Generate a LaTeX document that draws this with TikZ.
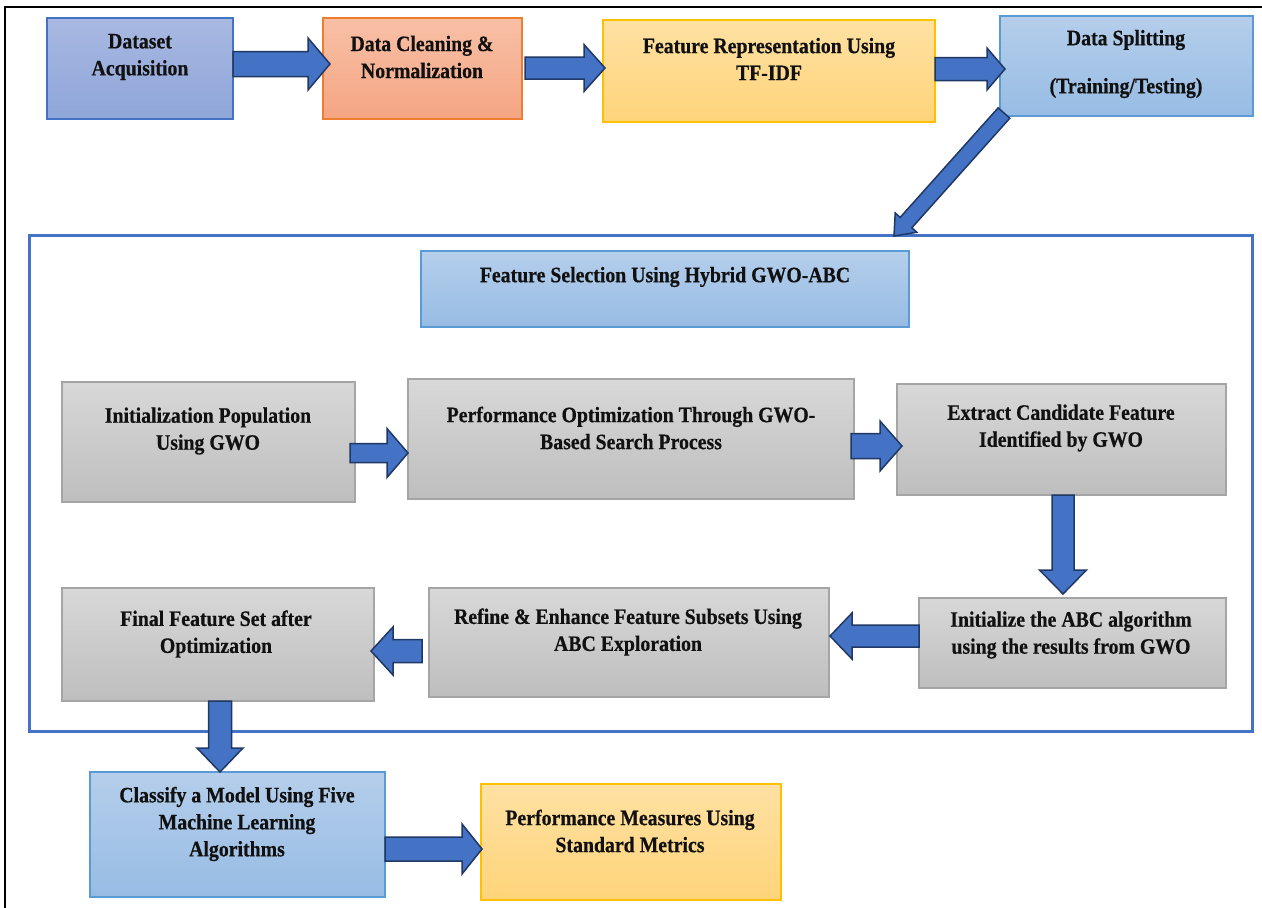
\documentclass[tikz,border=0pt]{standalone}
\usepackage{fontspec}
\setmainfont{Liberation Serif}[FakeStretch=0.9, BoldFeatures={FakeBold=0.5}]
\usetikzlibrary{calc}
\definecolor{bluetop}{HTML}{A8B8E1}
\definecolor{bluebot}{HTML}{8FA6DA}
\definecolor{blueline}{HTML}{4472C4}
\definecolor{orangetop}{HTML}{F8C0A6}
\definecolor{orangebot}{HTML}{F4A583}
\definecolor{orangeline}{HTML}{ED7D31}
\definecolor{yellowtop}{HTML}{FFE1A3}
\definecolor{yellowbot}{HTML}{FFD47A}
\definecolor{yellowline}{HTML}{FFC000}
\definecolor{ltbluetop}{HTML}{B5CEEB}
\definecolor{ltbluebot}{HTML}{97BCE4}
\definecolor{ltblueline}{HTML}{5B9BD5}
\definecolor{graytop}{HTML}{D8D8D8}
\definecolor{graybot}{HTML}{BEBEBE}
\definecolor{grayline}{HTML}{A5A5A5}
\definecolor{arrowblue}{HTML}{4472C4}
\definecolor{arrowdark}{HTML}{203864}
\definecolor{txtcol}{HTML}{111111}
\tikzset{
  box/.style={rectangle, anchor=north west, inner sep=0pt, outer sep=0pt, line width=1.2pt},
  bluebox/.style={box, draw=blueline, top color=bluetop, bottom color=bluebot},
  orangebox/.style={box, draw=orangeline, top color=orangetop, bottom color=orangebot},
  yellowbox/.style={box, draw=yellowline, top color=yellowtop, bottom color=yellowbot},
  ltbluebox/.style={box, draw=ltblueline, top color=ltbluetop, bottom color=ltbluebot},
  graybox/.style={box, draw=grayline, top color=graytop, bottom color=graybot},
  txt/.style={font=\fontsize{22}{27}\selectfont\bfseries, align=center, text=txtcol, inner sep=0pt},
  arrowsty/.style={fill=arrowblue, draw=arrowdark, line width=1.5pt, line join=miter},
}
% #1 start, #2 tip, #3 shaft half-width, #4 head half-width, #5 head length
\newcommand\blockarrow[5]{%
  \coordinate (hb) at ($(#2)!#5!(#1)$);
  \filldraw[arrowsty] ($(#1)!#3!90:(#2)$) -- ($(hb)!#3!90:(#2)$) -- ($(hb)!#4!90:(#2)$) -- (#2)
    -- ($(hb)!#4!-90:(#2)$) -- ($(hb)!#3!-90:(#2)$) -- ($(#1)!#3!-90:(#2)$) -- cycle;}
\begin{document}
\begin{tikzpicture}[x=1pt,y=-1pt]
\useasboundingbox (0,0) rectangle (1262,908);
\fill[white] (0,0) rectangle (1262,908);
\draw[line width=1.5pt, black] (5,908) -- (5,7) -- (1262,7);

% top row
\node[bluebox, minimum width=186pt, minimum height=101pt] (b1) at (47,18) {};
\node[orangebox, minimum width=199pt, minimum height=101pt] (b2) at (323,18) {};
\node[yellowbox, minimum width=332pt, minimum height=102pt] (b3) at (603,20) {};
\node[ltbluebox, minimum width=253pt, minimum height=100pt] (b4) at (1000,16) {};
\node[txt] (b1t) at (140,57) {Dataset\\Acquisition};
\node[txt] (b2t) at (422,57) {Data Cleaning \&\\Normalization};
\node[txt] (b3t) at (769,59) {Feature Representation Using\\TF-IDF};
\node[txt] (b4t) at (1126,64) {Data Splitting\\[21pt](Training/Testing)};

% frame
\node[rectangle, anchor=north west, inner sep=0pt, outer sep=0pt, draw=blueline, line width=3pt,
      minimum width=1223pt, minimum height=496pt] (fr) at (29,235) {};
\node[ltbluebox, minimum width=488pt, minimum height=76pt] (hd) at (421,251) {};
\node[txt] (hdt) at (665,277) {Feature Selection Using Hybrid GWO-ABC};

% gray boxes
\node[graybox, minimum width=293pt, minimum height=120pt] (g1) at (62,382) {};
\node[graybox, minimum width=446pt, minimum height=120pt] (g2) at (408,379) {};
\node[graybox, minimum width=329pt, minimum height=111pt] (g3) at (897,384) {};
\node[graybox, minimum width=307pt, minimum height=90pt] (g4) at (919,598) {};
\node[graybox, minimum width=400pt, minimum height=109pt] (g5) at (429,588) {};
\node[graybox, minimum width=312pt, minimum height=113pt] (g6) at (62,588) {};
\node[txt] (g1t) at (208,431) {Initialization Population\\Using GWO};
\node[txt] (g2t) at (631,428) {Performance Optimization Through GWO-\\Based Search Process};
\node[txt] (g3t) at (1061,428) {Extract Candidate Feature\\Identified by GWO};
\node[txt] (g4t) at (1071,635) {Initialize the ABC algorithm\\using the results from GWO};
\node[txt] (g5t) at (628,632) {Refine \& Enhance Feature Subsets Using\\ABC Exploration};
\node[txt] (g6t) at (216,634) {Final Feature Set after\\Optimization};

% bottom row
\node[ltbluebox, minimum width=295pt, minimum height=125pt] (c1) at (90,772) {};
\node[yellowbox, minimum width=300pt, minimum height=116pt] (c2) at (481,784) {};
\node[txt] (c1t) at (237,824) {Classify a Model Using Five\\Machine Learning\\Algorithms};
\node[txt] (c2t) at (630,831) {Performance Measures Using\\Standard Metrics};

% arrows
\coordinate (a1s) at (b1.east |- 0,64);
\coordinate (a1t) at ($(b2.west |- 0,64)+(7,0)$);
\blockarrow{a1s}{a1t}{12.5pt}{26pt}{22pt}
\coordinate (a2s) at ($(b2.east |- 0,68)+(3,0)$);
\coordinate (a2t) at ($(b3.west |- 0,68)+(2,0)$);
\blockarrow{a2s}{a2t}{11pt}{23.5pt}{21pt}
\coordinate (a3s) at (b3.east |- 0,69);
\coordinate (a3t) at ($(b4.west |- 0,69)+(5,0)$);
\blockarrow{a3s}{a3t}{11.5pt}{21pt}{18pt}
\coordinate (a4s) at ($(b4.south west)+(4,-3)$);
\coordinate (a4t) at ($(fr.north west)+(865,1)$);
\blockarrow{a4s}{a4t}{7.8pt}{14.5pt}{18pt}
\coordinate (a5s) at ($(g1.east |- 0,453)+(-5,0)$);
\coordinate (a5t) at (g2.west |- 0,453);
\blockarrow{a5s}{a5t}{9.5pt}{24.5pt}{21pt}
\coordinate (a6s) at ($(g2.east |- 0,446)+(-3,0)$);
\coordinate (a6t) at ($(g3.west |- 0,446)+(5,0)$);
\blockarrow{a6s}{a6t}{12.5pt}{25pt}{22pt}
\coordinate (a7s) at (g3.south -| 1063,0);
\coordinate (a7t) at ($(g4.north -| 1063,0)+(0,-4)$);
\blockarrow{a7s}{a7t}{11pt}{23.5pt}{24pt}
\coordinate (a8s) at (g4.west |- 0,636);
\coordinate (a8t) at ($(g5.east |- 0,636)+(1,0)$);
\blockarrow{a8s}{a8t}{11pt}{23pt}{22pt}
\coordinate (a9s) at ($(g5.west |- 0,651)+(-7,0)$);
\coordinate (a9t) at ($(g6.east |- 0,651)+(-3,0)$);
\blockarrow{a9s}{a9t}{11.5pt}{24pt}{22pt}
\coordinate (a10s) at (g6.south -| 220,0);
\coordinate (a10t) at (c1.north -| 220,0);
\blockarrow{a10s}{a10t}{11.5pt}{23pt}{24pt}
\coordinate (a11s) at (c1.east |- 0,849);
\coordinate (a11t) at ($(c2.west |- 0,849)+(1,0)$);
\blockarrow{a11s}{a11t}{12pt}{25pt}{20pt}
\end{tikzpicture}
\end{document}
